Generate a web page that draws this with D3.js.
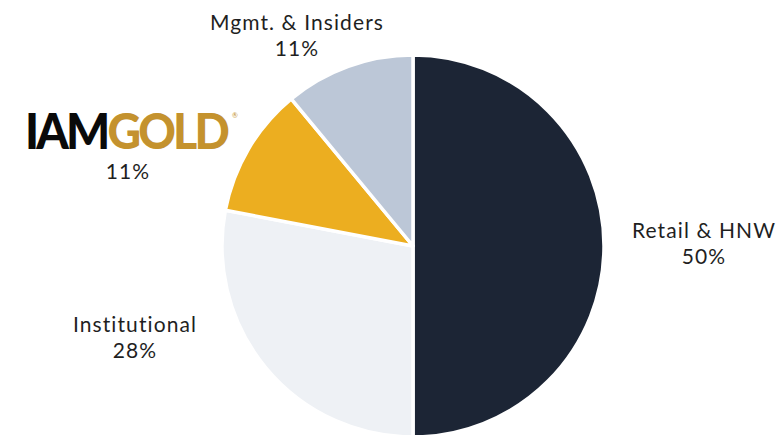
<!DOCTYPE html>
<html>
<head>
<meta charset="utf-8">
<script src="https://cdn.jsdelivr.net/npm/d3@7"></script>
<style>
  html, body { margin: 0; padding: 0; background: #fff; }
  svg { display: block; }
  .lbl { font-family: Lato, sans-serif; font-size: 21px; letter-spacing: 1.1px; fill: #1f1f1f; }
</style>
</head>
<body>
<div id="chart"></div>
<script>
// shareholder breakdown
const holders = ['Retail & HNW', 'Institutional', 'IAMGOLD', 'Mgmt. & Insiders'];
const shares = [50, 28, 11, 11];
const shareLabels = ['50%', '28%', '11%', '11%'];
const sliceColors = ['#1c2535', '#eef1f5', '#ecae20', '#bcc7d7'];

const width = 779, height = 435;
const cx = 413, cy = 246, radius = 191;

// where each label block sits (centre x, first baseline)
const labelAt = [
  { x: 704, y: 238 },
  { x: 135, y: 332 },
  { x: 128, y: 179 },
  { x: 297, y: 30 }
];

const svg = d3.select('#chart')
  .append('svg')
  .attr('width', width)
  .attr('height', height);

const pie = d3.pie().sort(null).value(d => d);
const arc = d3.arc().innerRadius(0).outerRadius(radius);

const g = svg.append('g').attr('transform', `translate(${cx},${cy})`);

g.selectAll('path')
  .data(pie(shares))
  .enter()
  .append('path')
  .attr('d', arc)
  .attr('fill', (d, i) => sliceColors[i])
  .attr('stroke', '#fff')
  .attr('stroke-width', 3.5)
  .attr('stroke-linejoin', 'round');

// labels
holders.forEach((name, i) => {
  const pos = labelAt[i];
  const t = svg.append('text')
    .attr('class', 'lbl')
    .attr('text-anchor', 'middle')
    .attr('x', pos.x)
    .attr('y', pos.y);

  if (name === 'IAMGOLD') {
    // the logo stands in for the name
    const logo = svg.append('text')
      .attr('x', 25)
      .attr('y', 149)
      .attr('textLength', 202)
      .attr('lengthAdjust', 'spacingAndGlyphs')
      .style('font-family', 'Lato, sans-serif')
      .style('font-weight', 900)
      .style('font-size', '49px')
      .style('letter-spacing', '-3px');
    logo.append('tspan').attr('fill', '#0a0a0a').text('IAM');
    logo.append('tspan').attr('fill', '#c4922e').text('GOLD');
    svg.append('text')
      .attr('x', 232)
      .attr('y', 118)
      .attr('fill', '#c4922e')
      .style('font-family', 'Lato, sans-serif')
      .style('font-size', '7px')
      .text('®');
    t.text(shareLabels[i]);
    return;
  }

  t.append('tspan').attr('x', pos.x).text(name);
  t.append('tspan').attr('x', pos.x).attr('dy', 25.5).text(shareLabels[i]);
});
</script>
</body>
</html>
